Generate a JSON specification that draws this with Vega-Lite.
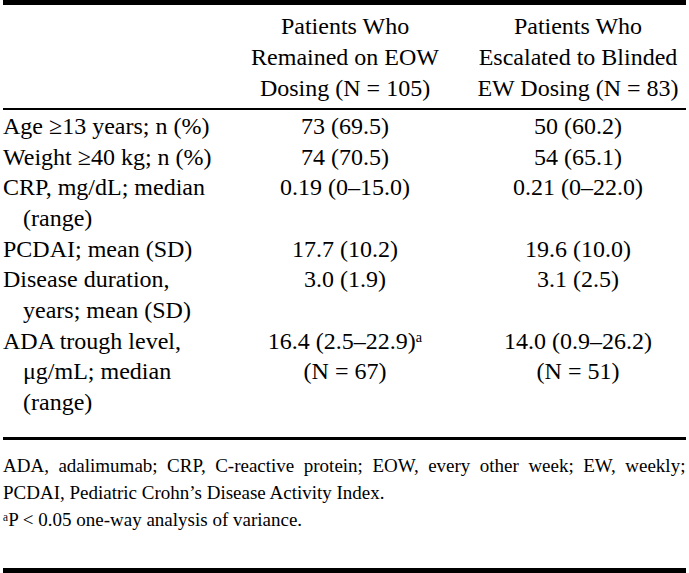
{
  "$schema": "https://vega.github.io/schema/vega-lite/v6.json",
  "width": 689,
  "height": 573,
  "padding": 0,
  "autosize": {"type": "fit", "contains": "padding"},
  "background": "white",
  "config": {"view": {"stroke": null}, "text": {"font": "Liberation Serif", "color": "black"}},
  "data": {"values": [
    {"section": "header", "col": "EOW", "line": 1, "text": "Patients Who"},
    {"section": "header", "col": "EOW", "line": 2, "text": "Remained on EOW"},
    {"section": "header", "col": "EOW", "line": 3, "text": "Dosing (N = 105)"},
    {"section": "header", "col": "EW", "line": 1, "text": "Patients Who"},
    {"section": "header", "col": "EW", "line": 2, "text": "Escalated to Blinded"},
    {"section": "header", "col": "EW", "line": 3, "text": "EW Dosing (N = 83)"},
    {"section": "body", "col": "label", "line": 1, "cont": false, "text": "Age ≥13 years; n (%)"},
    {"section": "body", "col": "EOW", "line": 1, "text": "73 (69.5)"},
    {"section": "body", "col": "EW", "line": 1, "text": "50 (60.2)"},
    {"section": "body", "col": "label", "line": 2, "cont": false, "text": "Weight ≥40 kg; n (%)"},
    {"section": "body", "col": "EOW", "line": 2, "text": "74 (70.5)"},
    {"section": "body", "col": "EW", "line": 2, "text": "54 (65.1)"},
    {"section": "body", "col": "label", "line": 3, "cont": false, "text": "CRP, mg/dL; median"},
    {"section": "body", "col": "EOW", "line": 3, "text": "0.19 (0–15.0)"},
    {"section": "body", "col": "EW", "line": 3, "text": "0.21 (0–22.0)"},
    {"section": "body", "col": "label", "line": 4, "cont": true, "text": "(range)"},
    {"section": "body", "col": "label", "line": 5, "cont": false, "text": "PCDAI; mean (SD)"},
    {"section": "body", "col": "EOW", "line": 5, "text": "17.7 (10.2)"},
    {"section": "body", "col": "EW", "line": 5, "text": "19.6 (10.0)"},
    {"section": "body", "col": "label", "line": 6, "cont": false, "text": "Disease duration,"},
    {"section": "body", "col": "EOW", "line": 6, "text": "3.0 (1.9)"},
    {"section": "body", "col": "EW", "line": 6, "text": "3.1 (2.5)"},
    {"section": "body", "col": "label", "line": 7, "cont": true, "text": "years; mean (SD)"},
    {"section": "body", "col": "label", "line": 8, "cont": false, "text": "ADA trough level,"},
    {"section": "body", "col": "EOW", "line": 8, "text": "16.4 (2.5–22.9)ᵃ"},
    {"section": "body", "col": "EW", "line": 8, "text": "14.0 (0.9–26.2)"},
    {"section": "body", "col": "label", "line": 9, "cont": true, "text": "μg/mL; median"},
    {"section": "body", "col": "EOW", "line": 9, "text": "(N = 67)"},
    {"section": "body", "col": "EW", "line": 9, "text": "(N = 51)"},
    {"section": "body", "col": "label", "line": 10, "cont": true, "text": "(range)"},
    {"section": "foot", "col": "label", "line": 1, "text": "ADA, \u00a0adalimumab; \u00a0CRP, \u00a0C-reactive \u00a0protein; \u00a0EOW, \u00a0every \u00a0other \u00a0week; \u00a0EW, \u00a0weekly;"},
    {"section": "foot", "col": "label", "line": 2, "text": "PCDAI, Pediatric Crohn’s Disease Activity Index."},
    {"section": "foot", "col": "label", "line": 3, "text": "ᵃP < 0.05 one-way analysis of variance."}
  ]},
  "layer": [
    {
      "transform": [{"filter": "datum.section === 'header'"}],
      "encoding": {
        "y": {"field": "line", "type": "quantitative", "scale": {"domain": [0.129, 18.61], "reverse": true, "zero": false, "nice": false}, "axis": null}
      },
      "layer": [
        {
          "mark": {"type": "text", "fontSize": 24, "align": "center", "baseline": "middle"},
          "encoding": {
            "x": {"field": "col", "type": "nominal", "scale": {"type": "point", "domain": ["EOW", "EW"], "padding": 0.966, "align": 0.76}, "axis": null},
            "text": {"field": "text"}
          }
        },
        {"mark": {"type": "rule", "strokeWidth": 5, "color": "black"}, "encoding": {"y": {"datum": 0.21}}},
        {"mark": {"type": "rule", "strokeWidth": 2, "color": "black"}, "encoding": {"y": {"datum": 3.645}}}
      ]
    },
    {
      "transform": [{"filter": "datum.section === 'body'"}],
      "encoding": {
        "y": {"field": "line", "type": "quantitative", "scale": {"domain": [-3.144, 15.55], "reverse": true, "zero": false, "nice": false}, "axis": null}
      },
      "layer": [
        {
          "transform": [{"filter": "datum.col !== 'label'"}],
          "mark": {"type": "text", "fontSize": 24, "align": "center", "baseline": "middle"},
          "encoding": {
            "x": {"field": "col", "type": "nominal", "scale": {"type": "point", "domain": ["EOW", "EW"], "padding": 0.966, "align": 0.76}, "axis": null},
            "text": {"field": "text"}
          }
        },
        {
          "transform": [{"filter": "datum.col === 'label'"}],
          "layer": [
            {
              "transform": [{"filter": "!datum.cont"}],
              "mark": {"type": "text", "fontSize": 24, "align": "left", "baseline": "middle"},
              "encoding": {
                "x": {"field": "col", "type": "nominal", "bandPosition": 0, "scale": {"type": "band", "domain": ["label"], "paddingInner": 0, "paddingOuter": 0}, "axis": null},
                "text": {"field": "text"}
              }
            },
            {
              "transform": [{"filter": "datum.cont"}],
              "mark": {"type": "text", "fontSize": 24, "align": "left", "baseline": "middle", "dx": 20},
              "encoding": {
                "x": {"field": "col", "type": "nominal", "bandPosition": 0, "scale": {"type": "band", "domain": ["label"], "paddingInner": 0, "paddingOuter": 0}, "axis": null},
                "text": {"field": "text"}
              }
            }
          ]
        },
        {"mark": {"type": "rule", "strokeWidth": 2, "color": "black"}, "encoding": {"y": {"datum": 11.15}}}
      ],
      "resolve": {"scale": {"x": "independent"}}
    },
    {
      "transform": [{"filter": "datum.section === 'foot'"}],
      "encoding": {
        "y": {"field": "line", "type": "quantitative", "scale": {"domain": [-16.26, 4.963], "reverse": true, "zero": false, "nice": false}, "axis": null}
      },
      "layer": [
        {
          "mark": {"type": "text", "fontSize": 19, "align": "left", "baseline": "middle"},
          "encoding": {
            "x": {"field": "col", "type": "nominal", "bandPosition": 0, "scale": {"type": "band", "domain": ["label"], "paddingInner": 0, "paddingOuter": 0}, "axis": null},
            "text": {"field": "text"}
          }
        },
        {"mark": {"type": "rule", "strokeWidth": 5, "color": "black"}, "encoding": {"y": {"datum": 4.87}}}
      ]
    }
  ],
  "resolve": {"scale": {"y": "independent", "x": "independent"}}
}
